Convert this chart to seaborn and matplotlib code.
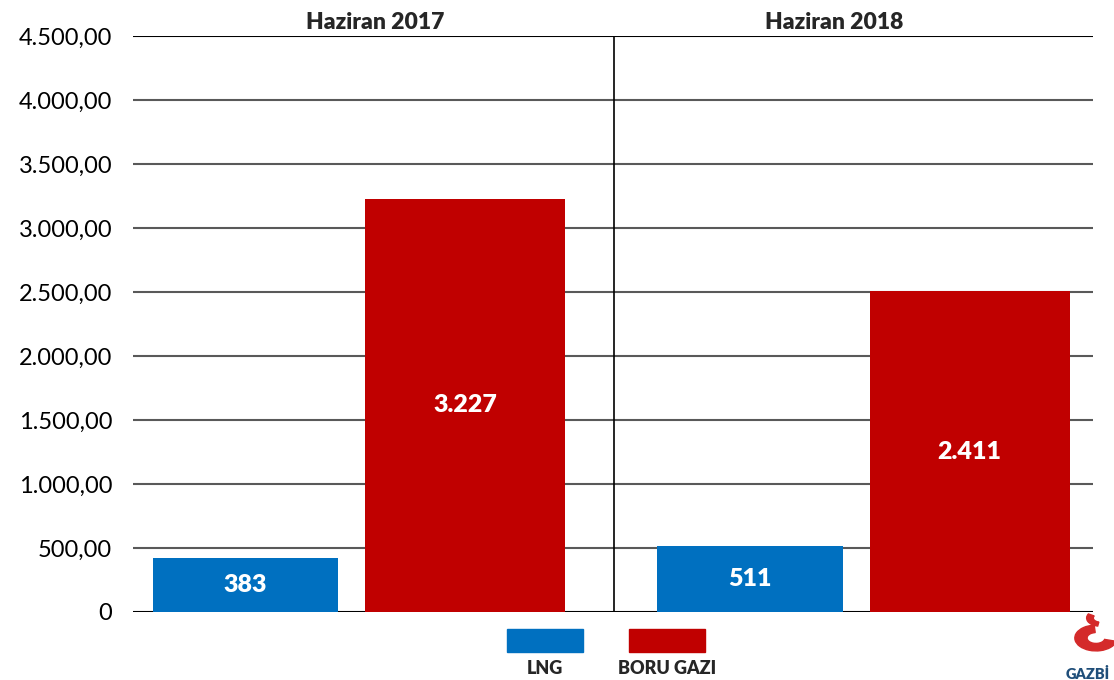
import pandas as pd
import matplotlib.pyplot as plt
import seaborn as sns
from matplotlib.patches import Rectangle, Wedge
from matplotlib.ticker import FuncFormatter

sns.set_style("white")
plt.rcParams['font.family'] = ['Lato', 'DejaVu Sans']

# data
periods = ["Haziran 2017", "Haziran 2018"]
series = ["LNG", "BORU GAZI"]
lng_heights = [420, 515]
boru_heights = [3230, 2505]
bar_labels = ["383", "511", "3.227", "2.411"]  # printed values (LNG first, then BORU GAZI)
colors = {"LNG": "#0070c0", "BORU GAZI": "#c00000"}

df = pd.DataFrame({
    "period": periods * 2,
    "series": ["LNG"] * 2 + ["BORU GAZI"] * 2,
    "value": lng_heights + boru_heights,
})

fig = plt.figure(figsize=(11.14, 6.8), dpi=100)
ax = fig.add_axes([133 / 1114, 68 / 680, 960 / 1114, 576 / 680])

sns.barplot(data=df, x="period", y="value", hue="series", order=periods,
            hue_order=series, palette=colors, width=0.86, gap=0.1,
            saturation=1, legend=False, ax=ax, zorder=3, linewidth=0)

# LNG bars are a bit narrower than the pipeline-gas ones in the original
for p in ax.containers[0]:
    p.set_width(0.367)
for p in ax.containers[1]:
    r = p.get_x() + p.get_width()
    p.set_x(r - 0.396)
    p.set_width(0.396)

# bar labels
for cont, labs in zip(ax.containers, [bar_labels[:2], bar_labels[2:]]):
    ax.bar_label(cont, labels=labs, label_type="center", color="white",
                 fontsize=18, fontweight="heavy")

ax.set_ylim(0, 4500)
ax.set_xlim(-0.448, 1.455)
ax.set_yticks(range(0, 4501, 500))

def tr_fmt(v, pos):
    if v == 0:
        return "0"
    s = f"{v:,.2f}"
    return s.replace(",", "X").replace(".", ",").replace("X", ".")

ax.yaxis.set_major_formatter(FuncFormatter(tr_fmt))
ax.tick_params(axis="y", labelsize=17, length=0, pad=15, colors="black")
ax.set_xticks([])
ax.set_xlabel("")
ax.set_ylabel("")
for s in ax.spines.values():
    s.set_visible(False)

for yv in range(0, 4501, 500):
    c = "black" if yv in (0, 4500) else "#595959"
    ax.axhline(yv, color=c, lw=1.5, zorder=1)
ax.axvline(0.506, color="black", lw=1.2, zorder=1)

# period titles
ax.text(0.252, 1.005, periods[0], transform=ax.transAxes, ha="center",
        va="bottom", fontsize=16.5, fontweight="heavy")
ax.text(0.73, 1.005, periods[1], transform=ax.transAxes, ha="center",
        va="bottom", fontsize=16.5, fontweight="heavy")

# legend below the plot: swatch with the name underneath
W, H = 1114, 680
for name, x0 in zip(series, [507, 629]):
    fig.add_artist(Rectangle((x0 / W, 1 - 652 / H), 76 / W, 23 / H,
                             color=colors[name], transform=fig.transFigure))
    fig.text((x0 + 38) / W, 1 - 669 / H, name, ha="center", va="center",
             fontsize=13, fontweight="heavy")

# logo hint
fig.add_artist(Wedge((1096 / W, 1 - 638 / H), 0.019, 95, 345, width=0.011,
                     color="#d42a2a", transform=fig.transFigure))
fig.add_artist(Wedge((1100 / W, 1 - 618 / H), 0.012, 150, 260, width=0.006,
                     color="#d42a2a", transform=fig.transFigure))
fig.text(1110 / W, 1 - 674 / H, "GAZBİ", ha="right", va="center",
         fontsize=10.5, fontweight="heavy", color="#1f4e79")

fig.savefig("out.png", dpi=100)
